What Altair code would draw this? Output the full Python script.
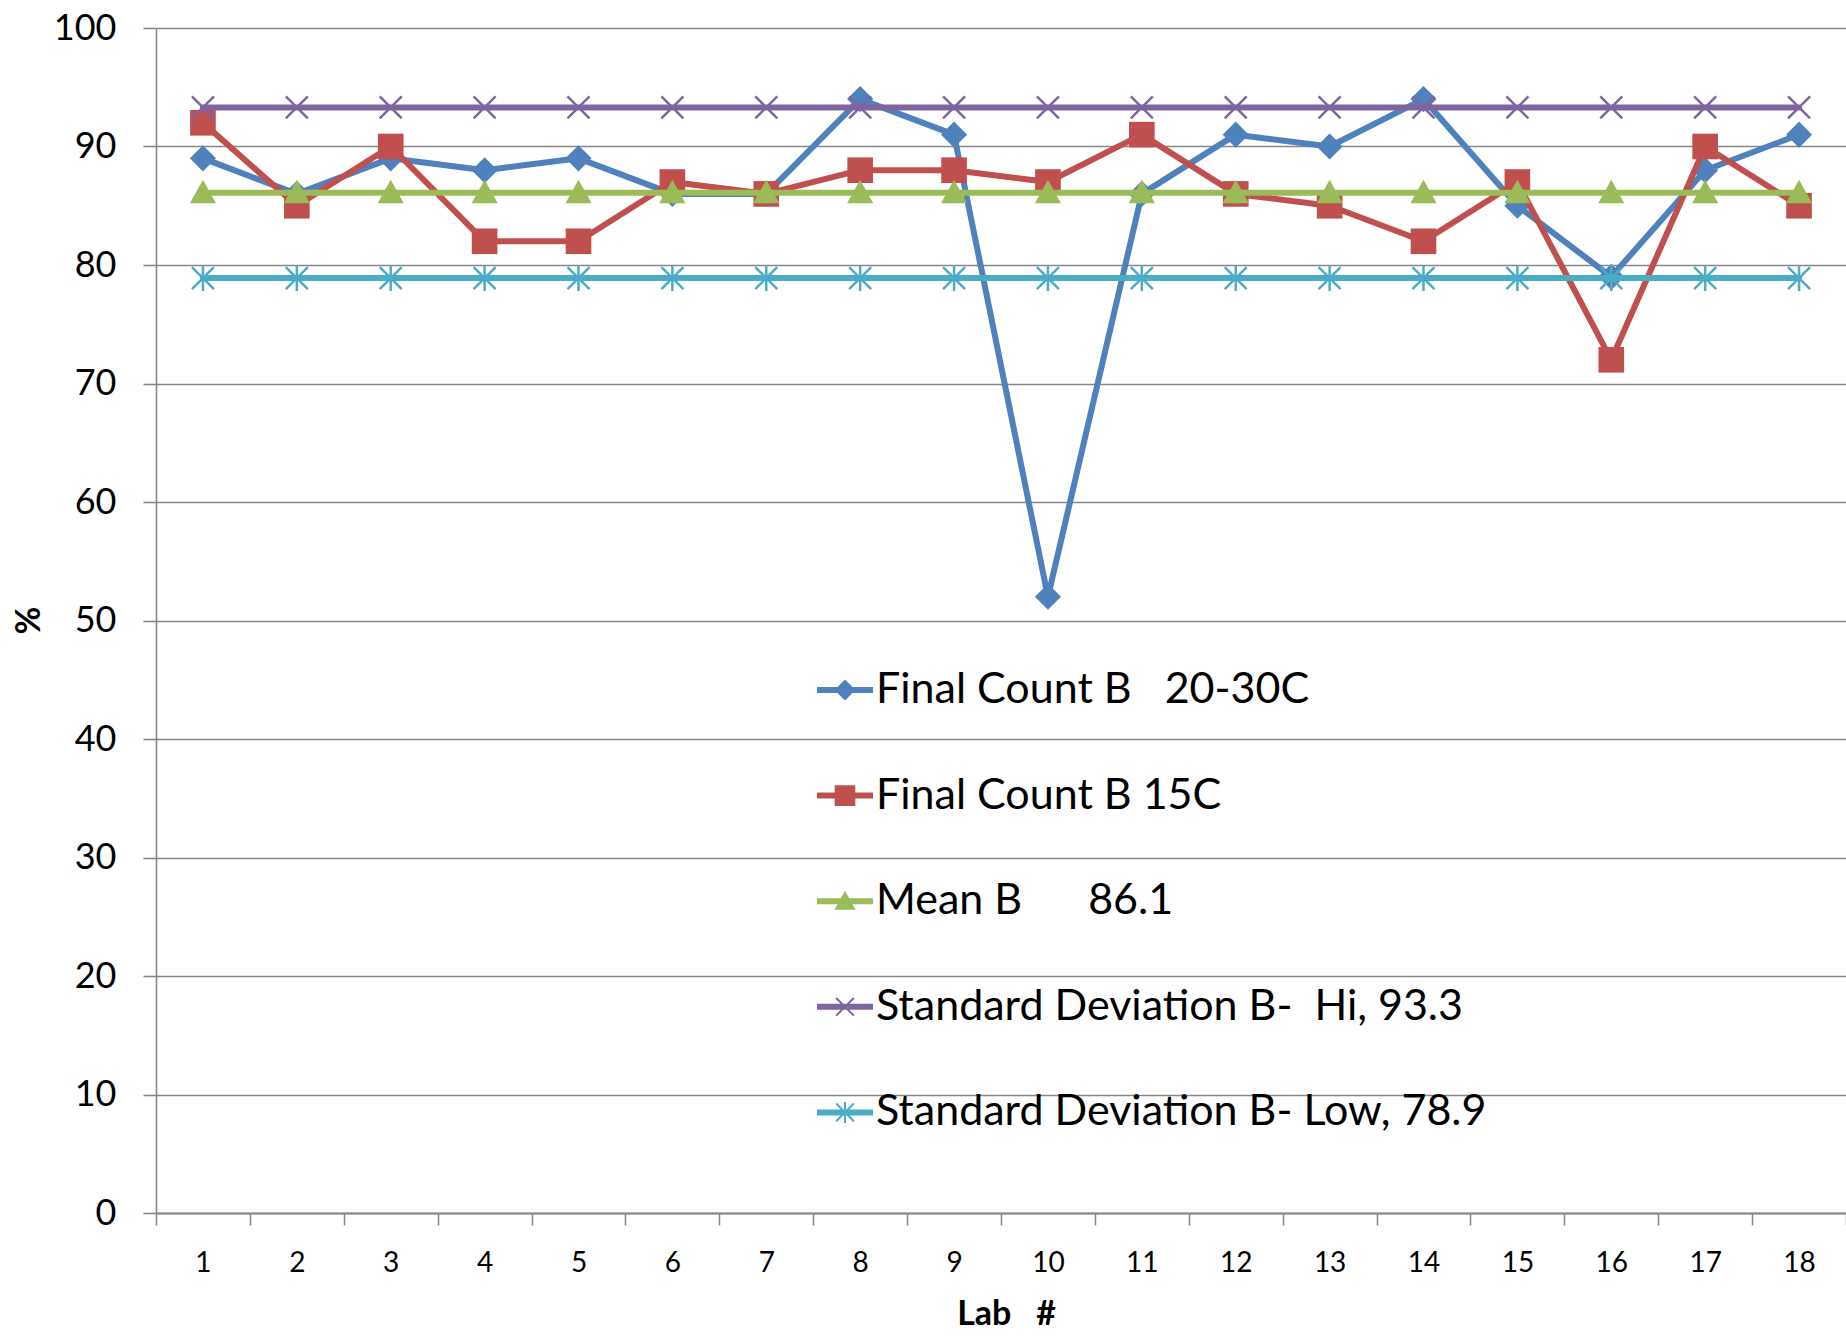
import math

import altair as alt
import pandas as pd

# ---- data -------------------------------------------------------------
labs = list(range(1, 19))

series_names = [
    "Final Count B\u00a0\u00a0 20-30C",
    "Final Count B 15C",
    "Mean B\u00a0\u00a0\u00a0\u00a0\u00a0 86.1",
    "Standard Deviation B-\u00a0 Hi, 93.3",
    "Standard Deviation B- Low, 78.9",
]

count_20_30 = [89, 86, 89, 88, 89, 86, 86, 94, 91, 52, 86, 91, 90, 94, 85, 79, 88, 91]
count_15 = [92, 85, 90, 82, 82, 87, 86, 88, 88, 87, 91, 86, 85, 82, 87, 72, 90, 85]
mean_b = [86.1, 86.1, 86.1, 86.1, 86.1, 86.1, 86.1, 86.1, 86.1,
          86.1, 86.1, 86.1, 86.1, 86.1, 86.1, 86.1, 86.1, 86.1]
sd_hi = [93.3, 93.3, 93.3, 93.3, 93.3, 93.3, 93.3, 93.3, 93.3,
         93.3, 93.3, 93.3, 93.3, 93.3, 93.3, 93.3, 93.3, 93.3]
sd_low = [78.9, 78.9, 78.9, 78.9, 78.9, 78.9, 78.9, 78.9, 78.9,
          78.9, 78.9, 78.9, 78.9, 78.9, 78.9, 78.9, 78.9, 78.9]

y_ticks = [0, 10, 20, 30, 40, 50, 60, 70, 80, 90, 100]

colors = ["#4F81BD", "#C0504D", "#9BBB59", "#8064A2", "#4BACC6"]
GRID = "#878787"
FONT = "Lato"

all_values = [count_20_30, count_15, mean_b, sd_hi, sd_low]
rows = []
for name, vals in zip(series_names, all_values):
    for lab, v in zip(labs, vals):
        rows.append({"lab": lab, "series": name, "value": v})
df = pd.DataFrame(rows)


# ---- marker glyphs (SVG paths, all polygons clockwise) ---------------
def arm(angle_deg, half_len, half_w):
    a = math.radians(angle_deg)
    dx, dy = math.cos(a), math.sin(a)
    nx, ny = -dy, dx
    return [
        (-half_len * dx - half_w * nx, -half_len * dy - half_w * ny),
        (half_len * dx - half_w * nx, half_len * dy - half_w * ny),
        (half_len * dx + half_w * nx, half_len * dy + half_w * ny),
        (-half_len * dx + half_w * nx, -half_len * dy + half_w * ny),
    ]


def to_path(polys, unit):
    parts = []
    for poly in polys:
        pts = " L".join(f"{x / unit:.4f},{y / unit:.4f}" for x, y in poly)
        parts.append(f"M{pts} Z")
    return " ".join(parts)


glyphs = [
    [[(0, -10.5), (10.5, 0), (0, 10.5), (-10.5, 0)]],                     # diamond
    [[(-10.3, -10.3), (10.3, -10.3), (10.3, 10.3), (-10.3, 10.3)]],       # square
    [[(0, -10.5), (10.5, 8.5), (-10.5, 8.5)]],                            # triangle
    [arm(45, 12.5, 1.0), arm(-45, 12.5, 1.0)],                            # x
    [arm(45, 12.5, 1.0), arm(-45, 12.5, 1.0), arm(90, 10.5, 1.0)],        # asterisk
]

MARK_SIZE = 620
MARK_UNIT = 10.0      # glyph coordinates are given for a 20 px box
LEG_UNIT = 28.0       # legend symbol size 3136 -> 56 px box
legend_line = [(-28, -3.0), (28, -3.0), (28, 3.0), (-28, 3.0)]

marker_paths = [to_path(g, MARK_UNIT) for g in glyphs]
legend_paths = [to_path([legend_line] + g, LEG_UNIT) for g in glyphs]

# ---- scales / axes -----------------------------------------------------
color_scale = alt.Scale(domain=series_names, range=colors)

x_axis = alt.Axis(
    values=[i / 2 for i in range(1, 38)],
    labelExpr="datum.value % 1 == 0 ? format(datum.value, 'd') : ''",
    tickOpacity={"condition": {"test": "datum.value % 1 == 0", "value": 0}, "value": 1},
    grid=False,
    domainColor=GRID,
    domainWidth=2,
    tickColor=GRID,
    tickWidth=1.5,
    tickSize=12,
    labelFont=FONT,
    labelFontSize=28,
    labelColor="black",
    labelPadding=24,
    labelOverlap=False,
    labelFlush=False,
    labelBound=False,
    title="Lab\u00a0\u00a0 #",
    titleFont=FONT,
    titleFontSize=34,
    titleFontWeight="bold",
    titleColor="black",
    titleX=850,
    titleY=101,
    titleBaseline="middle",
    titleAlign="center",
)

y_axis = alt.Axis(
    values=y_ticks,
    grid=True,
    gridColor=GRID,
    gridWidth=1.6,
    domainColor=GRID,
    domainWidth=1.6,
    tickColor=GRID,
    tickWidth=1.6,
    tickSize=13,
    labelFont=FONT,
    labelFontSize=36,
    labelColor="black",
    labelPadding=27,
    title="%",
    titleFont=FONT,
    titleFontSize=34,
    titleFontWeight="bold",
    titleColor="black",
    titleX=-127,
    titleY=592,
    titleBaseline="middle",
    titleAlign="center",
)

x_enc = alt.X("lab:Q", scale=alt.Scale(domain=[0.5, 18.5], nice=False, zero=False), axis=x_axis)
y_enc = alt.Y("value:Q", scale=alt.Scale(domain=[0, 100], nice=False), axis=y_axis)

base = alt.Chart(df)

layers = []
for name, col, path in zip(series_names, colors, marker_paths):
    sub = base.transform_filter(alt.datum.series == name)
    line = sub.mark_line(
        color=col, strokeWidth=6, strokeJoin="round", strokeCap="round"
    ).encode(x=x_enc, y=y_enc)
    pts = sub.mark_point(
        filled=True, opacity=1, strokeWidth=0, color=col, shape=path, size=MARK_SIZE
    ).encode(x=x_enc, y=y_enc)
    layers += [line, pts]

# legend carrier: draws nothing, only supplies line+marker legend symbols
legend_layer = base.transform_filter("false").mark_point(filled=True, opacity=1).encode(
    x=x_enc,
    y=y_enc,
    color=alt.Color("series:N", scale=color_scale, legend=alt.Legend(title=None)),
    shape=alt.Shape(
        "series:N",
        scale=alt.Scale(domain=series_names, range=legend_paths),
        legend=alt.Legend(title=None),
    ),
)
layers.append(legend_layer)

chart = (
    alt.layer(*layers)
    .properties(
        width=1690,
        height=1185,
        autosize=alt.AutoSizeParams(type="none"),
        padding={"left": 156, "top": 28, "right": 0, "bottom": 123},
        background="white",
    )
    .configure_view(stroke=None)
    .configure_legend(
        orient="none",
        legendX=661,
        legendY=634,
        padding=0,
        offset=0,
        labelFont=FONT,
        labelFontSize=43,
        labelColor="black",
        labelLimit=1000,
        labelOffset=3,
        symbolSize=3136,
        symbolOpacity=1,
        symbolStrokeWidth=0,
        rowPadding=55.6,
    )
)

chart.save("out.html", embed_options={"renderer": "svg", "actions": False})
